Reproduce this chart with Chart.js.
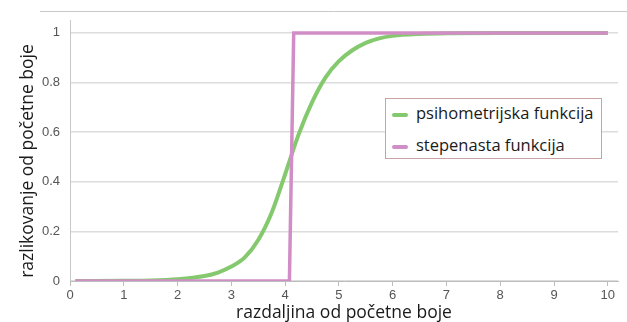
<!DOCTYPE html>
<html>
<head>
<meta charset="utf-8">
<script src="https://cdn.jsdelivr.net/npm/chart.js@4.4.1/dist/chart.umd.min.js"></script>
<style>
  html, body { margin: 0; padding: 0; background: #fff; }
  #wrap { position: relative; width: 627px; height: 322px; overflow: hidden; }
  #legend {
    position: absolute; left: 385px; top: 98px; width: 217px; height: 61px;
    border: 1px solid #c9a3a3; background: #fff; box-sizing: border-box;
    font-family: "Open Sans", sans-serif; font-size: 16.5px; color: #1a1a1a;
  }
  .item { position: absolute; left: 6px; height: 22px; line-height: 22px; white-space: nowrap; }
  .item span.sw { display: inline-block; width: 16px; height: 4px; vertical-align: middle; margin-right: 8px; border-radius: 2px; }
</style>
</head>
<body>
<div id="wrap">
  <canvas id="myChart" width="627" height="322"></canvas>
  <div id="legend">
    <div class="item" style="top:3px"><span class="sw" style="background:#85c96f"></span>psihometrijska funkcija</div>
    <div class="item" style="top:35px"><span class="sw" style="background:#d18ec6"></span>stepenasta funkcija</div>
  </div>
</div>
<script>
const xTicks = [0, 1, 2, 3, 4, 5, 6, 7, 8, 9, 10]
const yTicks = [0, 0.2, 0.4, 0.6, 0.8, 1]
const yTitle = 'razlikovanje od početne boje'
const xTitle = 'razdaljina od početne boje'

// psihometrijska funkcija
const psyX = [0.1, 1, 1.5, 2, 2.5, 2.75, 3, 3.25, 3.5, 3.75, 4, 4.25, 4.5, 4.75, 5, 5.25, 5.5, 5.75, 6, 6.5, 7, 8, 9, 10]
const psyY = [0, 0.001, 0.002, 0.007, 0.02, 0.034, 0.058, 0.095, 0.165, 0.275, 0.43, 0.59, 0.72, 0.82, 0.886, 0.93, 0.96, 0.978, 0.988, 0.996, 0.999, 1, 1, 1]

// stepenasta funkcija
const stepX = [0.1, 4.08, 4.16, 10]
const stepY = [0, 0, 1, 1]

const toPoints = (xs, ys) => xs.map((x, i) => ({x, y: ys[i]}))

// top frame line + y axis title (placed a bit lower than Chart.js would centre it)
const extras = {
    id: 'extras',
    beforeDraw(chart){
        const ctx = chart.ctx
        ctx.save()
        ctx.strokeStyle = '#c8c8c8'
        ctx.lineWidth = 1
        ctx.beginPath()
        ctx.moveTo(40, 11.5)
        ctx.lineTo(627, 11.5)
        ctx.stroke()
        ctx.translate(28, 161)
        ctx.rotate(-Math.PI / 2)
        ctx.fillStyle = '#1a1a1a'
        ctx.font = '17.5px "Open Sans"'
        ctx.textAlign = 'center'
        ctx.textBaseline = 'middle'
        ctx.fillText(yTitle, 0, 0)
        ctx.restore()
    }
}

const ctx = document.getElementById('myChart')
new Chart(ctx, {
    type: 'line',
    data: {
        datasets: [{
            label: 'stepenasta funkcija',
            data: toPoints(stepX, stepY),
            borderColor: '#d18ec6',
            borderWidth: 3.5,
            pointRadius: 0,
            tension: 0,
            order: 0
        }, {
            label: 'psihometrijska funkcija',
            data: toPoints(psyX, psyY),
            borderColor: '#85c96f',
            borderWidth: 4,
            pointRadius: 0,
            cubicInterpolationMode: 'monotone',
            order: 1
        }]
    },
    options: {
        responsive: false,
        animation: false,
        layout: { padding: { top: 20, right: 9, left: 0, bottom: 0 } },
        plugins: { legend: { display: false }, tooltip: { enabled: false } },
        scales: {
            x: {
                type: 'linear',
                min: 0,
                max: 10.19,
                afterBuildTicks: s => { s.ticks = xTicks.map(v => ({value: v})) },
                afterFit: s => { s.height = 41 },
                grid: { drawOnChartArea: false, drawTicks: true, tickLength: 5, color: '#bdbdbd' },
                border: { color: '#bdbdbd' },
                ticks: { color: '#555', padding: 2, font: { family: 'Liberation Sans', size: 13 } },
                title: {
                    display: true,
                    text: xTitle,
                    color: '#1a1a1a',
                    padding: { top: 0, bottom: 0 },
                    font: { family: 'Open Sans', size: 17.5, lineHeight: 1 }
                }
            },
            y: {
                min: 0,
                max: 1.052,
                afterBuildTicks: s => { s.ticks = yTicks.map(v => ({value: v})) },
                afterFit: s => { s.width = 70 },
                grid: { color: '#dcdcdc', lineWidth: 1.5, drawTicks: false },
                border: { color: '#c8c8c8' },
                ticks: {
                    color: '#555', padding: 10,
                    font: { family: 'Liberation Sans', size: 13 },
                    callback: v => String(+v.toFixed(1))
                }
            }
        }
    },
    plugins: [extras]
})
</script>
</body>
</html>
